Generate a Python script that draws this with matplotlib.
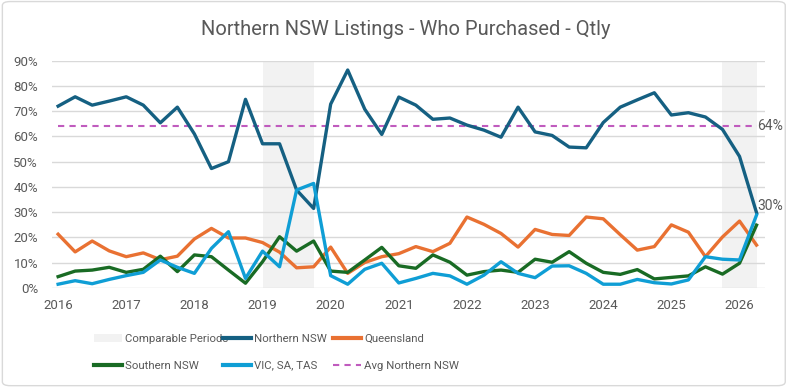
import numpy as np
import matplotlib
matplotlib.use('Agg')
import matplotlib.pyplot as plt
from matplotlib.patches import Patch, FancyBboxPatch
from matplotlib.lines import Line2D
from matplotlib.ticker import PercentFormatter

# quarterly points, 2016 Q1 .. 2026 Q2
quarters = 2016 + 0.25 * np.arange(42)

northern_nsw = [72.0, 75.7, 72.4, 74.0, 75.7, 72.4, 65.4, 71.6, 61.0, 47.3, 50.0, 74.7,
                57.1, 57.1, 38.8, 31.5, 72.8, 86.3, 70.8, 60.8, 75.6, 72.4, 66.8, 67.3,
                64.5, 62.5, 59.7, 71.6, 61.8, 60.4, 55.8, 55.5, 65.5, 71.6, 74.5, 77.3,
                68.5, 69.4, 67.7, 62.8, 52.1, 29.8]
queensland = [21.3, 14.3, 18.6, 14.7, 12.4, 13.9, 11.2, 12.6, 19.4, 23.6, 19.8, 19.8,
              18.0, 14.2, 8.0, 8.4, 16.2, 5.8, 10.1, 12.4, 13.6, 16.4, 14.4, 17.7,
              28.1, 25.2, 21.6, 16.2, 23.2, 21.2, 20.8, 28.1, 27.4, 21.1, 15.0, 16.4,
              25.0, 22.1, 12.4, 20.2, 26.5, 17.0]
southern_nsw = [4.5, 6.7, 7.1, 8.2, 6.2, 7.4, 12.6, 6.5, 13.1, 12.4, 7.1, 1.9,
                10.4, 20.3, 14.6, 18.6, 6.7, 6.2, 11.1, 16.1, 8.8, 7.8, 13.1, 10.2,
                5.1, 6.5, 7.1, 6.2, 11.4, 10.2, 14.4, 9.8, 6.2, 5.4, 7.3, 3.6,
                4.2, 4.8, 8.4, 5.5, 9.8, 24.9]
vic_sa_tas = [1.5, 2.9, 1.7, 3.4, 4.9, 6.2, 11.1, 8.2, 5.8, 15.7, 22.3, 3.8,
              14.6, 8.4, 38.8, 41.4, 4.9, 1.5, 7.4, 9.8, 2.0, 3.8, 5.8, 4.8,
              1.5, 5.1, 10.4, 5.8, 4.1, 8.7, 8.8, 5.8, 1.5, 1.5, 3.4, 2.1,
              1.6, 3.2, 12.4, 11.4, 11.1, 28.9]
avg_northern_nsw = 64.3
comparable_periods = [(2019.0, 2019.75), (2025.75, 2026.25)]
years = list(range(2016, 2027))

TXT = '#595959'
plt.rcParams['font.family'] = ['Roboto', 'DejaVu Sans']

fig = plt.figure(figsize=(7.9, 3.88), dpi=100)
ax = fig.add_axes([0.0658, 0.2577, 0.9022, 0.5859])

for start, end in comparable_periods:
    ax.axvspan(start, end, color='#F2F2F2', lw=0, zorder=0)

ax.plot(quarters, northern_nsw, color='#156082', lw=2.4, zorder=3)
ax.plot(quarters, queensland, color='#E97132', lw=2.4, zorder=3)
ax.plot(quarters, southern_nsw, color='#196B24', lw=2.4, zorder=3)
ax.plot(quarters, vic_sa_tas, color='#0F9ED5', lw=2.4, zorder=3)
ax.plot([quarters[0], quarters[-1]], [avg_northern_nsw] * 2, color='#C05BBE',
        lw=1.5, ls=(0, (3, 2.5)), zorder=2)

ax.annotate(f'{avg_northern_nsw:.0f}%', (quarters[-1], avg_northern_nsw), xytext=(0.5, 0),
            textcoords='offset points', ha='left', va='center', color=TXT, fontsize=10,
            annotation_clip=False)
ax.annotate(f'{northern_nsw[-1]:.0f}%', (quarters[-1], northern_nsw[-1]), xytext=(0.5, 5),
            textcoords='offset points', ha='left', va='center', color=TXT, fontsize=10,
            annotation_clip=False)

ax.set_xlim(2015.91, 2026.37)
ax.set_ylim(0, 90)
ax.set_yticks(range(0, 91, 10))
ax.yaxis.set_major_formatter(PercentFormatter(decimals=0))
ax.set_xticks(years)
ax.grid(axis='y', color='#D9D9D9', lw=1)
ax.set_axisbelow(True)
for s in ax.spines.values():
    s.set_visible(False)
ax.tick_params(length=0, colors=TXT, labelsize=9.5)
ax.tick_params(axis='y', pad=10)
ax.tick_params(axis='x', pad=8)

fig.text(0.514, 0.923, 'Northern NSW Listings - Who Purchased - Qtly', ha='center',
         va='center', fontsize=14.5, color=TXT)

cols = [
    ([Patch(facecolor='#F2F2F2', edgecolor='none'),
      Line2D([], [], color='#196B24', lw=3)], ['Comparable Periods', 'Southern NSW'], 94),
    ([Line2D([], [], color='#156082', lw=3),
      Line2D([], [], color='#0F9ED5', lw=3)], ['Northern NSW', 'VIC, SA, TAS'], 223),
    ([Line2D([], [], color='#E97132', lw=3),
      Line2D([], [], color='#C05BBE', lw=1.5, ls=(0, (3, 2.5)))],
     ['Queensland', 'Avg Northern NSW'], 333),
]
for handles, labels, xpx in cols:
    fig.legend(handles, labels, loc='upper left', bbox_to_anchor=(xpx / 790, 1 - 334 / 388),
               frameon=False, fontsize=8.2, labelcolor=TXT, handlelength=2.5,
               handletextpad=0.25, labelspacing=1.45, borderpad=0, borderaxespad=0)

fig.patches.append(FancyBboxPatch((0.003, 0.006), 0.991, 0.99, boxstyle='round,pad=0,rounding_size=0.01',
                                  transform=fig.transFigure, fill=False, ec='#D9D9D9', lw=1))

fig.savefig('out.png', dpi=100)
